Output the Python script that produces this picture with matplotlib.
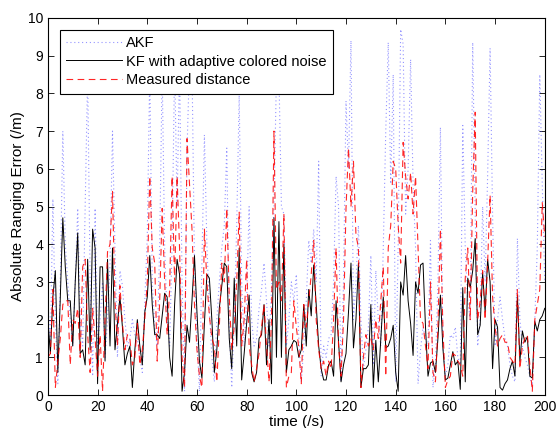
import numpy as np
import matplotlib
matplotlib.use("Agg")
import matplotlib.pyplot as plt

plt.rcParams["font.family"] = ["Liberation Sans", "DejaVu Sans"]

# -- data (1 s steps) ---------------------------------------------------------
time_s = np.arange(0, 201)

kf_err = [
    2.0, 1.1, 2.6, 3.3, 0.6, 2.6, 4.7, 3.4, 2.5, 2.5,
    1.3, 3.0, 4.3, 1.1, 1.2, 0.8, 3.6, 1.2, 4.4, 3.9,
    0.3, 3.4, 3.4, 0.9, 3.6, 1.3, 3.9, 1.2, 1.9, 2.6,
    1.8, 0.8, 1.1, 1.3, 0.2, 1.2, 2.0, 1.3, 0.8, 2.2,
    2.6, 3.7, 2.4, 1.6, 1.6, 1.5, 2.1, 2.7, 2.6, 1.0,
    0.5, 2.4, 3.6, 3.2, 0.1, 0.6, 1.85, 1.4, 2.5, 3.7,
    2.2, 0.9, 0.45, 1.9, 3.2, 3.1, 2.0, 0.6, 1.2, 2.3,
    2.9, 3.5, 3.4, 1.5, 0.7, 3.1, 1.3, 3.9, 0.4, 1.1,
    1.9, 2.65, 0.6, 0.35, 0.6, 1.5, 1.6, 2.4, 0.8, 2.0,
    0.3, 4.7, 1.0, 4.6, 1.0, 4.0, 0.6, 1.2, 1.3, 1.45,
    1.4, 1.0, 1.2, 2.4, 1.3, 2.8, 2.1, 3.45, 2.4, 1.3,
    0.7, 0.4, 0.4, 0.8, 0.9, 0.5, 2.5, 1.4, 0.35, 0.8,
    1.1, 2.2, 3.5, 1.25, 2.0, 3.5, 0.2, 0.7, 0.7, 0.8,
    2.4, 0.2, 1.45, 0.35, 1.5, 2.6, 1.25, 1.3, 1.5, 1.85,
    0.6, 0.1, 3.0, 2.65, 3.7, 2.5, 1.9, 1.05, 3.0, 2.7,
    3.45, 3.5, 1.8, 0.5, 0.85, 0.9, 0.6, 1.5, 2.65, 1.25,
    0.4, 0.45, 0.8, 1.15, 0.8, 0.9, 0.15, 2.85, 0.35, 3.1,
    2.85, 3.3, 4.15, 1.6, 1.85, 3.25, 2.2, 3.6, 3.0, 0.7,
    2.0, 1.8, 0.2, 0.13, 0.3, 0.4, 0.7, 0.9, 0.5, 2.65,
    0.9, 1.7, 1.4, 1.55, 0.5, 0.45, 1.95, 1.7, 2.0, 2.1,
    2.3,
]

measured_err = [
    1.0, 1.1, 2.8, 0.2, 0.9, 1.5, 2.4, 2.5, 2.5, 0.8,
    2.0, 1.9, 2.3, 1.0, 3.4, 3.6, 1.6, 0.6, 2.3, 1.5,
    0.5, 1.6, 0.1, 2.0, 3.8, 4.0, 5.4, 2.5, 1.3, 2.9,
    1.9, 1.2, 1.6, 1.5, 0.8, 1.0, 1.9, 0.8, 1.2, 2.0,
    3.0, 5.8, 3.9, 3.5, 0.9, 2.5, 4.95, 3.0, 1.6, 2.8,
    5.8, 3.0, 5.8, 3.9, 1.0, 0.2, 6.8, 5.6, 4.4, 2.4,
    1.2, 0.5, 0.2, 4.4, 3.0, 2.1, 1.5, 1.3, 0.35, 1.8,
    3.5, 3.0, 4.95, 2.6, 1.2, 1.8, 3.0, 4.85, 1.3, 2.0,
    3.6, 1.3, 0.8, 0.35, 0.7, 1.1, 1.8, 2.4, 1.3, 0.35,
    2.0, 7.0, 2.8, 3.0, 2.5, 4.8, 0.2, 0.5, 0.6, 2.5,
    1.8, 1.25, 0.3, 2.4, 1.8, 2.5, 3.2, 4.1, 2.0, 1.2,
    0.7, 0.9, 0.5, 0.9, 0.7, 2.0, 3.9, 1.3, 0.5, 2.0,
    4.95, 6.55, 5.0, 6.2, 4.25, 3.9, 0.2, 1.0, 1.6, 1.3,
    1.5, 1.2, 2.0, 1.5, 2.5, 3.4, 0.5, 3.9, 4.5, 6.2,
    6.0, 4.5, 3.5, 6.7, 5.8, 5.2, 5.9, 4.8, 5.8, 3.9,
    2.0, 1.9, 1.3, 0.7, 3.0, 0.6, 0.35, 1.8, 4.4, 1.8,
    0.2, 0.4, 0.5, 1.1, 1.05, 0.9, 0.8, 0.5, 3.1, 3.9,
    2.0, 5.4, 7.5, 2.0, 2.5, 3.3, 2.0, 3.5, 5.3, 2.6,
    1.8, 1.3, 1.5, 1.6, 1.4, 1.4, 1.0, 0.9, 0.8, 2.8,
    0.7, 1.3, 1.5, 1.6, 0.8, 0.1, 2.0, 2.4, 2.8, 5.1,
    4.2,
]

akf_err = [
    2.5, 1.3, 5.2, 2.0, 0.3, 3.0, 7.0, 4.0, 3.0, 2.0,
    1.3, 3.0, 4.95, 2.0, 1.3, 5.0, 8.5, 3.0, 0.5, 4.95,
    1.3, 2.0, 3.0, 1.0, 2.0, 3.5, 7.0, 3.9, 1.0, 3.3,
    2.9, 2.0, 1.3, 1.5, 2.0, 1.6, 1.5, 1.0, 0.6, 2.5,
    4.2, 8.6, 3.0, 1.8, 1.3, 4.0, 8.6, 3.9, 2.0, 1.3,
    4.0, 8.8, 5.0, 8.8, 3.0, 0.1, 6.5, 8.8, 8.8, 3.5,
    1.5, 0.1, 3.5, 6.9, 4.0, 2.3, 1.0, 0.35, 2.0, 3.0,
    3.9, 4.5, 6.55, 1.8, 0.2, 2.0, 4.5, 7.95, 3.0, 1.3,
    2.5, 5.0, 2.0, 1.3, 1.5, 2.3, 2.8, 3.5, 2.5, 1.3,
    2.8, 5.0, 8.5, 8.5, 5.0, 4.8, 1.3, 2.0, 3.0, 2.5,
    3.2, 1.5, 0.35, 1.3, 2.5, 4.1, 3.5, 4.4, 3.0, 6.2,
    0.5, 1.3, 1.0, 1.5, 1.6, 3.0, 5.8, 5.0, 0.35, 3.0,
    7.8, 6.0, 9.4, 2.0, 3.0, 4.5, 2.0, 0.7, 1.2, 1.8,
    3.7, 0.8, 3.3, 2.0, 1.3, 3.9, 7.0, 9.35, 5.6, 8.5,
    0.35, 4.0, 9.7, 9.3, 4.8, 6.0, 8.9, 5.6, 3.9, 0.3,
    1.2, 1.8, 1.5, 1.3, 4.1, 0.2, 0.8, 3.0, 7.1, 1.3,
    0.5, 0.8, 1.6, 1.5, 1.8, 1.0, 0.8, 7.15, 3.9, 2.5,
    2.0, 9.35, 4.8, 1.3, 2.0, 5.0, 3.0, 5.8, 9.2, 4.8,
    1.3, 2.0, 2.6, 2.0, 1.5, 1.3, 0.8, 0.5, 0.35, 4.15,
    2.0, 1.3, 1.0, 0.8, 0.5, 0.2, 2.0, 3.9, 8.5, 5.6,
    3.0,
]

# -- plot ---------------------------------------------------------------------
fig = plt.figure(figsize=(5.57, 4.28), dpi=100)
ax = fig.add_axes([0.086, 0.077, 0.892, 0.881])

ax.plot(time_s, akf_err, color="#4d4dff", linestyle=(0, (1, 2.5)), linewidth=0.8, alpha=0.6, label="AKF")
ax.plot(time_s, kf_err, color="black", linestyle="-", linewidth=0.7, label="KF with adaptive colored noise")
ax.plot(time_s, measured_err, color="red", linestyle=(0, (6, 4)), linewidth=0.8, alpha=0.85,
        label="Measured distance")

ax.set_xlim(0, 200)
ax.set_ylim(0, 10)
ax.set_xticks(np.arange(0, 201, 20))
ax.set_yticks(np.arange(0, 11, 1))
ax.tick_params(direction="in", top=True, right=True, labelsize=10, length=4, width=0.6)
for sp in ax.spines.values():
    sp.set_linewidth(0.8)

ax.set_xlabel("time (/s)", fontsize=11, labelpad=1)
ax.set_ylabel("Absolute Ranging Error (/m)", fontsize=11, labelpad=2)

leg = ax.legend(loc="upper left", fontsize=10.5, handlelength=3.8, handletextpad=0.3,
                fancybox=False, framealpha=1, edgecolor="black", borderpad=0.45,
                labelspacing=0.3, borderaxespad=0.8)
leg.get_frame().set_linewidth(0.8)

fig.savefig("out.png", dpi=100)
